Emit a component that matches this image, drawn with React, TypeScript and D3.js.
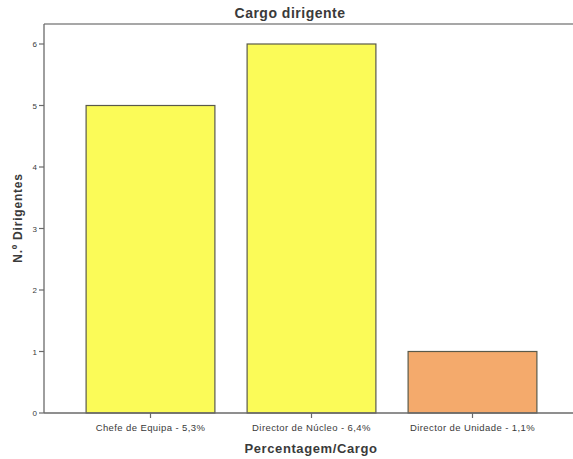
import React from "react";
import * as d3 from "d3";

// Number of managers per position
const categories = [
  "Chefe de Equipa - 5,3%",
  "Director de Núcleo - 6,4%",
  "Director de Unidade - 1,1%",
];
const counts = [5, 6, 1];
const barColors = ["#fbfb58", "#fbfb58", "#f4aa6c"];
const yTicks = [0, 1, 2, 3, 4, 5, 6];

const W = 573;
const H = 459;
const left = 44;
const right = 573;
const top = 24;
const bottom = 413;

export default function App() {
  const x = d3
    .scaleBand<string>()
    .domain(categories)
    .range([70, 553])
    .paddingInner(0.2)
    .paddingOuter(0.1);
  const y = d3.scaleLinear().domain([0, 6]).range([bottom, 44]);
  const font = "'Liberation Sans', Arial, sans-serif";
  const ink = "#3a3a3a";

  return (
    <svg
      width={W}
      height={H}
      style={{ position: "absolute", left: 0, top: 0, background: "#fff" }}
      fontFamily={font}
    >
      <rect x={0} y={0} width={W} height={H} fill="#ffffff" />
      {/* title */}
      <text
        x={290}
        y={18}
        textAnchor="middle"
        fontSize={14}
        fontWeight="bold"
        fill={ink}
        letterSpacing={0.5}
      >
        Cargo dirigente
      </text>
      {/* frame top */}
      <line x1={left} x2={right} y1={top} y2={top} stroke="#8a8a8a" strokeWidth={1.3} />
      {/* bars */}
      {categories.map((c, i) => (
        <rect
          key={c}
          x={x(c)}
          y={y(counts[i])}
          width={x.bandwidth()}
          height={y(0) - y(counts[i])}
          fill={barColors[i]}
          stroke="#5a5a4a"
          strokeWidth={1.2}
        />
      ))}
      {/* axes */}
      <line x1={left} x2={left} y1={top} y2={bottom} stroke="#6a6a6a" strokeWidth={1.3} />
      <line x1={left} x2={right} y1={bottom} y2={bottom} stroke="#6a6a6a" strokeWidth={1.3} />
      {yTicks.map((t) => (
        <g key={t}>
          <line x1={left - 5} x2={left} y1={y(t)} y2={y(t)} stroke="#6a6a6a" strokeWidth={1.2} />
          <text
            x={left - 7}
            y={y(t) + 3}
            textAnchor="end"
            fontSize={8}
            fill={ink}
          >
            {t}
          </text>
        </g>
      ))}
      {categories.map((c) => {
        const cx = (x(c) as number) + x.bandwidth() / 2;
        return (
          <g key={c}>
            <line x1={cx} x2={cx} y1={bottom} y2={bottom + 5} stroke="#6a6a6a" strokeWidth={1.2} />
            <text
              x={cx}
              y={431}
              textAnchor="middle"
              fontSize={9.5}
              fill={ink}
              letterSpacing={0.4}
            >
              {c}
            </text>
          </g>
        );
      })}
      {/* axis titles */}
      <text
        x={311}
        y={453}
        textAnchor="middle"
        fontSize={13}
        fontWeight="bold"
        fill={ink}
        letterSpacing={0.6}
      >
        Percentagem/Cargo
      </text>
      <text
        transform={`translate(22,218) rotate(-90)`}
        textAnchor="middle"
        fontSize={12}
        fontWeight="bold"
        fill={ink}
        letterSpacing={0.8}
      >
        N.º Dirigentes
      </text>
    </svg>
  );
}
